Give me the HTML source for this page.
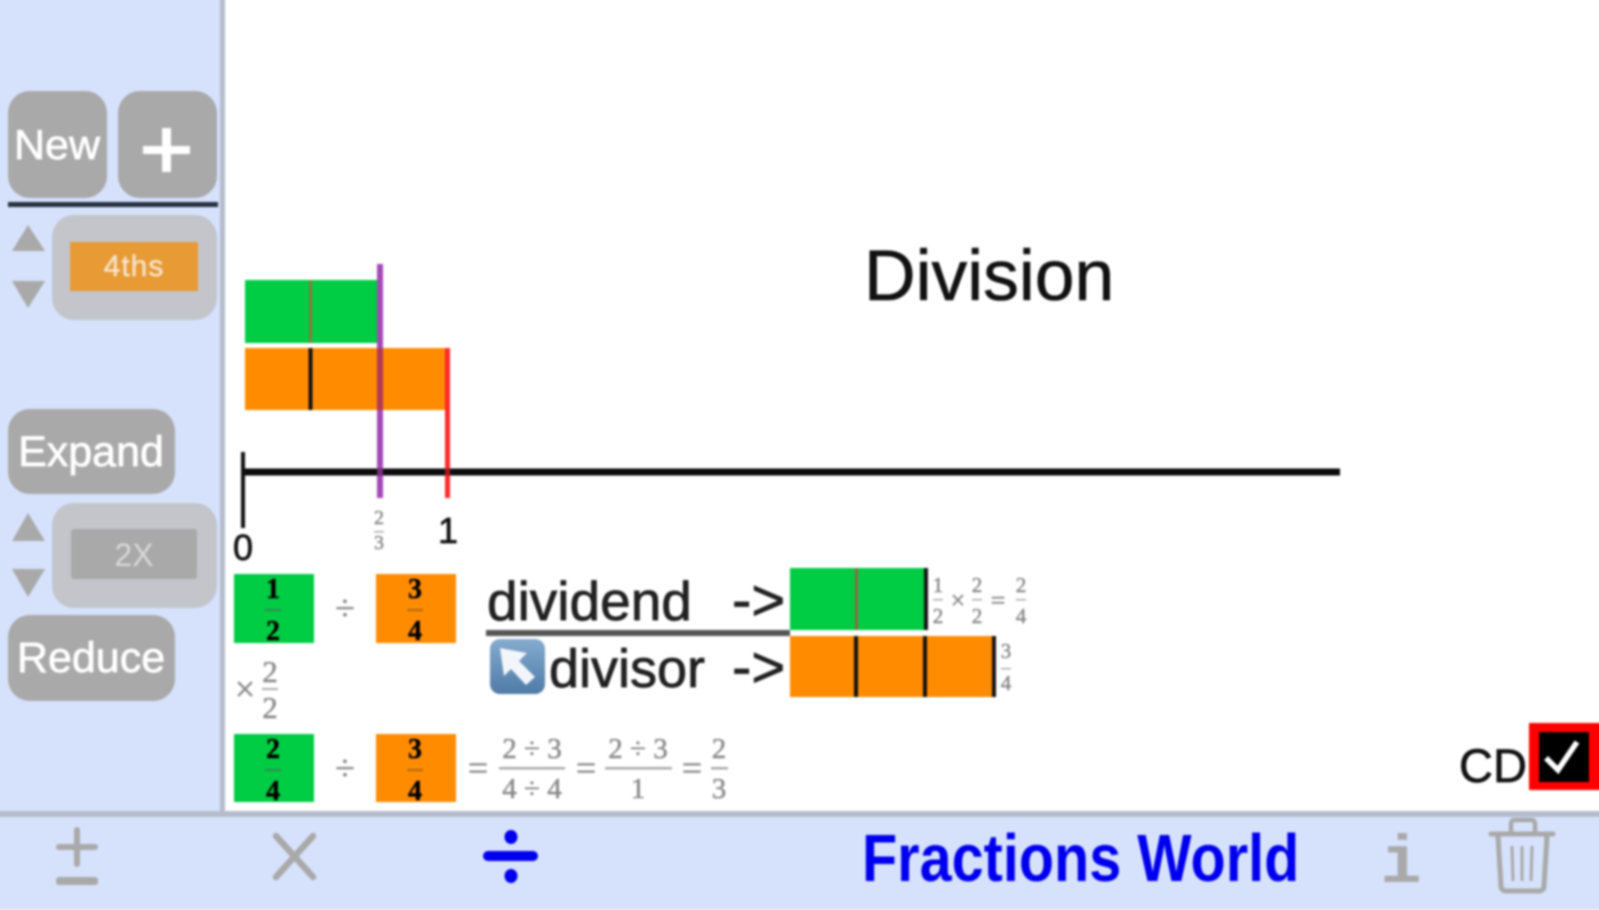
<!DOCTYPE html>
<html lang="en">
<head>
<meta charset="utf-8">
<title>Fractions World - Division</title>
<style>
html,body{margin:0;padding:0;width:1599px;height:900px;overflow:hidden;background:#fff}
svg{position:absolute;left:-10px;top:-10px;filter:blur(1.1px);display:block}
text{font-family:"Liberation Sans",sans-serif}
.f{font-family:"Liberation Serif",serif;text-anchor:middle;fill:#8a8a8a;stroke:#8a8a8a;stroke-width:.5px}
.b{font-family:"Liberation Serif",serif;text-anchor:middle;fill:#000;font-weight:bold;font-size:28px;stroke:#000;stroke-width:.4px}
.w{fill:#fff;text-anchor:middle;stroke:#fff;stroke-width:.7px}
.k{stroke:#111;stroke-width:.7px}
</style>
</head>
<body>
<svg width="1619" height="920" viewBox="-10 -10 1619 920" xmlns="http://www.w3.org/2000/svg">
<defs>
<linearGradient id="eg" x1="0" y1="0" x2="0" y2="1"><stop offset="0" stop-color="#86abd0"/><stop offset="1" stop-color="#4f7ba6"/></linearGradient>
</defs>
<rect x="-10" y="-10" width="1619" height="920" fill="#fff"/>
<!-- side panel -->
<rect x="-10" y="-10" width="230" height="827" fill="#d6e2fc"/>
<rect x="220" y="-10" width="5" height="827" fill="#b5bccb"/>
<!-- bottom bar -->
<rect x="-10" y="816" width="1619" height="94" fill="#d6e2fc"/>
<rect x="-10" y="811" width="1619" height="6" fill="#b5bccb"/>

<!-- sidebar buttons -->
<rect x="8" y="91" width="99" height="107" rx="22" fill="#a9a9a9"/>
<rect x="118" y="91" width="99" height="107" rx="22" fill="#a9a9a9"/>
<text x="57" y="159" font-size="42" class="w" textLength="86" lengthAdjust="spacingAndGlyphs">New</text>
<rect x="143" y="146" width="47" height="8" fill="#fff"/>
<rect x="162" y="128" width="9" height="44" fill="#fff"/>
<rect x="8" y="202" width="210" height="5" fill="#263041"/>

<rect x="52" y="215" width="165" height="105" rx="22" fill="#c3c5cb"/>
<rect x="70" y="242" width="128" height="49" fill="#e89a35"/>
<text x="134" y="276" font-size="30" letter-spacing="1" fill="#f5e3c9" stroke="#f5e3c9" stroke-width=".5" text-anchor="middle">4ths</text>
<polygon points="28,225 45,251 12,251" fill="#a9a9a9"/>
<polygon points="12,281 45,281 28,308" fill="#a9a9a9"/>

<rect x="8" y="409" width="167" height="85" rx="22" fill="#a9a9a9"/>
<text x="91" y="466" font-size="43" class="w">Expand</text>
<rect x="52" y="503" width="165" height="105" rx="22" fill="#c3c5cb"/>
<rect x="71" y="529" width="126" height="50" rx="3" fill="#a9a9a9"/>
<text x="134" y="566" font-size="32" fill="#d8d8d8" text-anchor="middle">2X</text>
<polygon points="28,513 45,541 12,541" fill="#a9a9a9"/>
<polygon points="12,569 45,569 28,597" fill="#a9a9a9"/>
<rect x="8" y="615" width="167" height="86" rx="22" fill="#a9a9a9"/>
<text x="91" y="672" font-size="43" class="w">Reduce</text>

<!-- title -->
<text x="864" y="300" font-size="71.500" fill="#111" stroke="#111" stroke-width=".6">Division</text>

<!-- bars -->
<rect x="245" y="280" width="132" height="63" fill="#00cc44"/>
<rect x="309" y="280" width="3" height="63" fill="#8f7a3c"/>
<rect x="245" y="348" width="202" height="62" fill="#ff8c00"/>
<rect x="308.500" y="348" width="4" height="62" fill="#111"/>
<rect x="377" y="264" width="6" height="234" fill="#a349b5"/>
<rect x="377" y="348" width="6" height="62" fill="#b03a5a"/>
<rect x="445" y="348" width="5" height="150" fill="#ff2a2a"/>

<!-- number line -->
<rect x="243" y="468.500" width="1097" height="7" fill="#0b0b0b"/>
<rect x="241" y="452" width="4" height="76" fill="#111"/>
<rect x="377" y="468.500" width="6" height="7" fill="#6f3079"/>
<rect x="445" y="468.500" width="5" height="7" fill="#a01c1c"/>
<text x="243" y="560" font-size="36" fill="#111" class="k" text-anchor="middle">0</text>
<text x="448" y="543" font-size="36" fill="#111" class="k" text-anchor="middle">1</text>
<text x="379" y="524" font-size="20" class="f">2</text>
<rect x="374" y="531" width="10" height="1.500" fill="#aaa"/>
<text x="379" y="549" font-size="20" class="f">3</text>

<!-- first row fractions -->
<rect x="234" y="574" width="80" height="69" fill="#00cc44"/>
<rect x="376" y="574" width="80" height="69" fill="#ff8c00"/>
<text x="273" y="598" class="b">1</text><rect x="265" y="609" width="16" height="2" fill="#3a8a50"/>
<text x="273" y="640" class="b">2</text>
<text x="415" y="598" class="b">3</text><rect x="407" y="609" width="16" height="2" fill="#b26a10"/>
<text x="415" y="640" class="b">4</text>
<text x="345" y="620" font-size="36" class="f">÷</text>

<!-- x 2/2 -->
<text x="245" y="701" font-size="36" class="f">×</text>
<text x="270" y="682" font-size="31" class="f">2</text>
<rect x="262" y="688" width="16" height="2" fill="#aaa"/>
<text x="270" y="718" font-size="31" class="f">2</text>

<!-- second row fractions -->
<rect x="234" y="734" width="80" height="68" fill="#00cc44"/>
<rect x="376" y="734" width="80" height="68" fill="#ff8c00"/>
<text x="273" y="758" class="b">2</text><rect x="265" y="769" width="16" height="2" fill="#3a8a50"/>
<text x="273" y="800" class="b">4</text>
<text x="415" y="758" class="b">3</text><rect x="407" y="769" width="16" height="2" fill="#b26a10"/>
<text x="415" y="800" class="b">4</text>
<text x="345" y="780" font-size="36" class="f">÷</text>

<text x="478" y="780" font-size="36" class="f">=</text>
<text x="532" y="758" font-size="29" class="f">2 ÷ 3</text>
<rect x="499" y="767" width="66" height="2.500" fill="#aaa"/>
<text x="532" y="798" font-size="29" class="f">4 ÷ 4</text>
<text x="586" y="780" font-size="36" class="f">=</text>
<text x="638" y="758" font-size="29" class="f">2 ÷ 3</text>
<rect x="605" y="767" width="67" height="2.500" fill="#aaa"/>
<text x="638" y="798" font-size="29" class="f">1</text>
<text x="692" y="780" font-size="36" class="f">=</text>
<text x="719" y="758" font-size="29" class="f">2</text>
<rect x="711" y="767" width="17" height="2.500" fill="#aaa"/>
<text x="719" y="798" font-size="29" class="f">3</text>

<!-- dividend / divisor -->
<text x="487" y="620" font-size="55" fill="#222" class="k">dividend</text>
<text x="732" y="620" font-size="58" fill="#222" class="k">-&gt;</text>
<rect x="486" y="630" width="304" height="6" fill="#555"/>
<rect x="490" y="639" width="55" height="55" rx="10" fill="url(#eg)"/>
<polygon points="500,648 527,653 519,661 535,677 526,685 511,669 504,676" fill="#f2f6fb"/>
<text x="549" y="687" font-size="54" fill="#222" class="k">divisor</text>
<text x="732" y="687" font-size="58" fill="#222" class="k">-&gt;</text>

<rect x="790" y="568" width="136" height="62" fill="#00cc44"/>
<rect x="855" y="568" width="3" height="62" fill="#8f6a3c"/>
<rect x="924" y="568" width="4" height="62" fill="#111"/>
<rect x="790" y="636" width="204" height="61" fill="#ff8c00"/>
<rect x="854" y="636" width="4" height="61" fill="#111"/>
<rect x="923" y="636" width="4" height="61" fill="#111"/>
<rect x="992" y="636" width="4" height="61" fill="#111"/>

<text x="938" y="592" font-size="21" class="f">1</text>
<rect x="933" y="599" width="10" height="1.500" fill="#aaa"/>
<text x="938" y="623" font-size="21" class="f">2</text>
<text x="958" y="609" font-size="26" class="f">×</text>
<text x="977" y="592" font-size="21" class="f">2</text>
<rect x="972" y="599" width="10" height="1.500" fill="#aaa"/>
<text x="977" y="623" font-size="21" class="f">2</text>
<text x="998" y="609" font-size="26" class="f">=</text>
<text x="1021" y="592" font-size="21" class="f">2</text>
<rect x="1016" y="599" width="10" height="1.500" fill="#aaa"/>
<text x="1021" y="623" font-size="21" class="f">4</text>
<text x="1006" y="658" font-size="21" class="f">3</text>
<rect x="1001" y="668" width="10" height="1.500" fill="#aaa"/>
<text x="1006" y="690" font-size="21" class="f">4</text>

<!-- CD checkbox -->
<text x="1459" y="782" font-size="47" fill="#111" class="k">CD</text>
<rect x="1529" y="723" width="80" height="67" fill="#ff0000"/>
<rect x="1539" y="732" width="50" height="50" fill="#000"/>
<polyline points="1546,758 1558,770 1577,742" fill="none" stroke="#fff" stroke-width="5.500"/>

<!-- toolbar icons -->
<rect x="74" y="827" width="6" height="40" rx="3" fill="#a9a9a9"/>
<rect x="56" y="844" width="42" height="6" rx="3" fill="#a9a9a9"/>
<rect x="56" y="877" width="42" height="8" rx="3" fill="#a9a9a9"/>
<line x1="276" y1="836" x2="313" y2="877" stroke="#a9a9a9" stroke-width="6.500" stroke-linecap="round"/>
<line x1="313" y1="836" x2="276" y2="877" stroke="#a9a9a9" stroke-width="6.500" stroke-linecap="round"/>
<rect x="483" y="851" width="55" height="10" rx="5" fill="#0000ee"/>
<ellipse cx="511" cy="837" rx="6.500" ry="7" fill="#0000ee"/>
<ellipse cx="511" cy="876" rx="6.500" ry="7" fill="#0000ee"/>

<text x="0" y="0" font-size="60" font-weight="bold" fill="#0000ee" transform="translate(862,881) scale(0.96,1.12)">Fractions World</text>

<text x="1401" y="882" font-size="68" font-weight="bold" fill="#a9a9a9" text-anchor="middle" style="font-family:'Liberation Mono',monospace">i</text>

<g fill="none" stroke="#a9a9a9">
<path d="M1511 833 v-9 q0 -4 4 -4 h16 q4 0 4 4 v9" stroke-width="4.500"/>
<line x1="1491" y1="834" x2="1553" y2="834" stroke-width="5" stroke-linecap="round"/>
<path d="M1498 836 l3 50 q0 5 6 5 h31 q6 0 6 -5 l3 -50" stroke-width="5"/>
<line x1="1512" y1="846" x2="1513" y2="881" stroke-width="3"/>
<line x1="1522" y1="846" x2="1522" y2="881" stroke-width="3"/>
<line x1="1532" y1="846" x2="1531" y2="881" stroke-width="3"/>
</g>
</svg>
</body>
</html>
